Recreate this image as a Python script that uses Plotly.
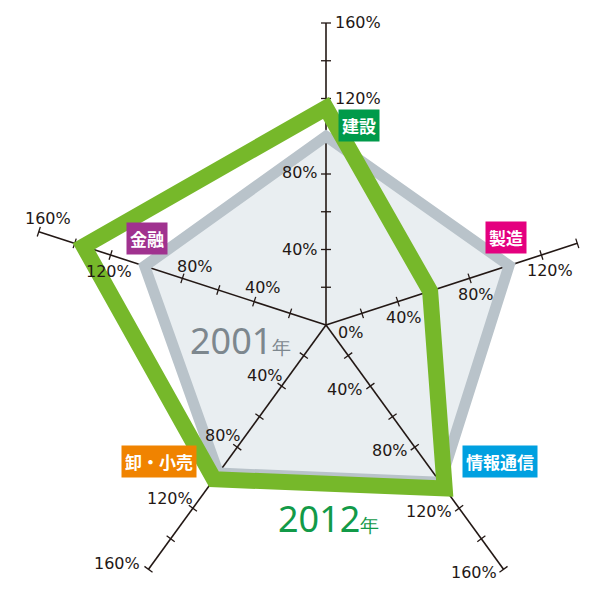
import numpy as np
import plotly.graph_objects as go

# ---------------- data ----------------
categories = ["建設", "製造", "情報通信", "卸・小売", "金融"]
values_2001 = [100, 102, 103, 97, 101]
values_2012 = [115, 58, 107, 101, 135]
axis_max = [160, 140, 160, 160, 160]
tick_values = [20, 40, 60, 80, 100, 120, 140, 160]
label_values = [40, 80, 120, 160]
series_names = ["2001年", "2012年"]

# ---------------- geometry helpers ----------------
PX = 302 / 160.0          # pixels per percent unit
CX, CY = 326, 325         # centre in pixels
angles = np.deg2rad(90 - 72 * np.arange(len(categories)))


def xy(vals):
    v = np.asarray(vals, dtype=float)
    return v * np.cos(angles), v * np.sin(angles)


def closed(a):
    a = list(a)
    return a + a[:2]


INK = "#231815"
GREY_LINE = "#b9c3ca"
GREY_FILL = "#e9eef1"
GREEN = "#76b82a"

fig = go.Figure()

# grey fill (2001)
x01, y01 = xy(values_2001)
fig.add_trace(go.Scatter(x=closed(x01), y=closed(y01), mode="lines",
                         fill="toself", fillcolor=GREY_FILL,
                         line=dict(width=0, color=GREY_FILL),
                         hoverinfo="skip", showlegend=False))

# axes
ax_x, ax_y = [], []
tk_x, tk_y = [], []
h = 5.0 / PX
for i, a in enumerate(angles):
    ax_x += [0, axis_max[i] * np.cos(a), None]
    ax_y += [0, axis_max[i] * np.sin(a), None]
    for t in tick_values:
        if t > axis_max[i]:
            continue
        px_, py_ = t * np.cos(a), t * np.sin(a)
        nx, ny = -np.sin(a), np.cos(a)
        tk_x += [px_ - h * nx, px_ + h * nx, None]
        tk_y += [py_ - h * ny, py_ + h * ny, None]
fig.add_trace(go.Scatter(x=ax_x, y=ax_y, mode="lines",
                         line=dict(color=INK, width=1.6),
                         hoverinfo="skip", showlegend=False))
fig.add_trace(go.Scatter(x=tk_x, y=tk_y, mode="lines",
                         line=dict(color=INK, width=1.3),
                         hoverinfo="skip", showlegend=False))

# grey outline (2001)
fig.add_trace(go.Scatter(x=closed(x01), y=closed(y01), mode="lines",
                         line=dict(width=11, color=GREY_LINE),
                         name=series_names[0], hoverinfo="skip",
                         showlegend=False))

# green outline (2012)
x12, y12 = xy(values_2012)
fig.add_trace(go.Scatter(x=closed(x12), y=closed(y12), mode="lines",
                         line=dict(width=16, color=GREEN),
                         name=series_names[1], hoverinfo="skip",
                         showlegend=False))

# ---------------- tick labels ----------------
# (anchor, xshift px, yshift px) per axis, per label value
label_style = {
    0: {40: ("right", -6, 0), 80: ("right", -6, 2), 120: ("left", 7, 0), 160: ("left", 7, 1)},
    1: {40: ("center", 6, -16), 80: ("center", 6, -16), 120: ("center", 9, -15)},
    2: {v: ("right", -5, -3) for v in label_values},
    3: {40: ("right", 3, 11), 80: ("right", 6, 12), 120: ("right", 2, 10), 160: ("right", -6, 6)},
    4: {40: ("center", 9, 14), 80: ("center", 13, 12), 120: ("center", -2, -16), 160: ("center", 9, 13)},
}
annotations = []
tick_font = dict(family="DejaVu Sans", size=16, color=INK)
for i, a in enumerate(angles):
    for v in label_values:
        if v not in label_style[i] or v > axis_max[i]:
            continue
        anc, xs, ys = label_style[i][v]
        annotations.append(dict(x=v * np.cos(a), y=v * np.sin(a), xref="x", yref="y",
                                text=f"{v}%", showarrow=False, xanchor=anc,
                                yanchor="middle", xshift=xs, yshift=ys, font=tick_font))
annotations.append(dict(x=0, y=0, xref="x", yref="y", text="0%", showarrow=False,
                        xanchor="left", yanchor="middle", xshift=10, yshift=-7,
                        font=tick_font))

# ---------------- category boxes ----------------
box_colors = ["#009a4a", "#e4007f", "#00a0e0", "#f08300", "#a0328f"]
box_pos = [(359, 126), (506, 237), (500, 461), (159, 461), (147, 238)]
for name, col, (bx, by) in zip(categories, box_colors, box_pos):
    annotations.append(dict(x=bx / 600, y=1 - by / 600, xref="paper", yref="paper",
                            text=f"<b>{name}</b>", showarrow=False,
                            xanchor="center", yanchor="middle",
                            bgcolor=col, borderpad=3,
                            font=dict(family="Noto Sans CJK JP", size=17, color="white")))

# ---------------- year labels ----------------
year_colors = ["#7d878e", "#129a48"]
year_pos = [(240, 340), (328, 518)]
for name, col, (bx, by) in zip(series_names, year_colors, year_pos):
    annotations.append(dict(x=bx / 600, y=1 - by / 600, xref="paper", yref="paper",
                            text=f"{name[:-1]}<span style='font-size:19px'>{name[-1]}</span>",
                            showarrow=False, xanchor="center", yanchor="middle",
                            font=dict(family="Noto Sans", size=36, color=col)))

fig.update_layout(
    width=600, height=600,
    margin=dict(l=0, r=0, t=0, b=0),
    paper_bgcolor="white", plot_bgcolor="white",
    xaxis=dict(range=[-CX / PX, (600 - CX) / PX], visible=False, fixedrange=True),
    yaxis=dict(range=[-(600 - CY) / PX, CY / PX], visible=False, fixedrange=True),
    annotations=annotations,
    showlegend=False,
)

fig.write_html("out.html")
